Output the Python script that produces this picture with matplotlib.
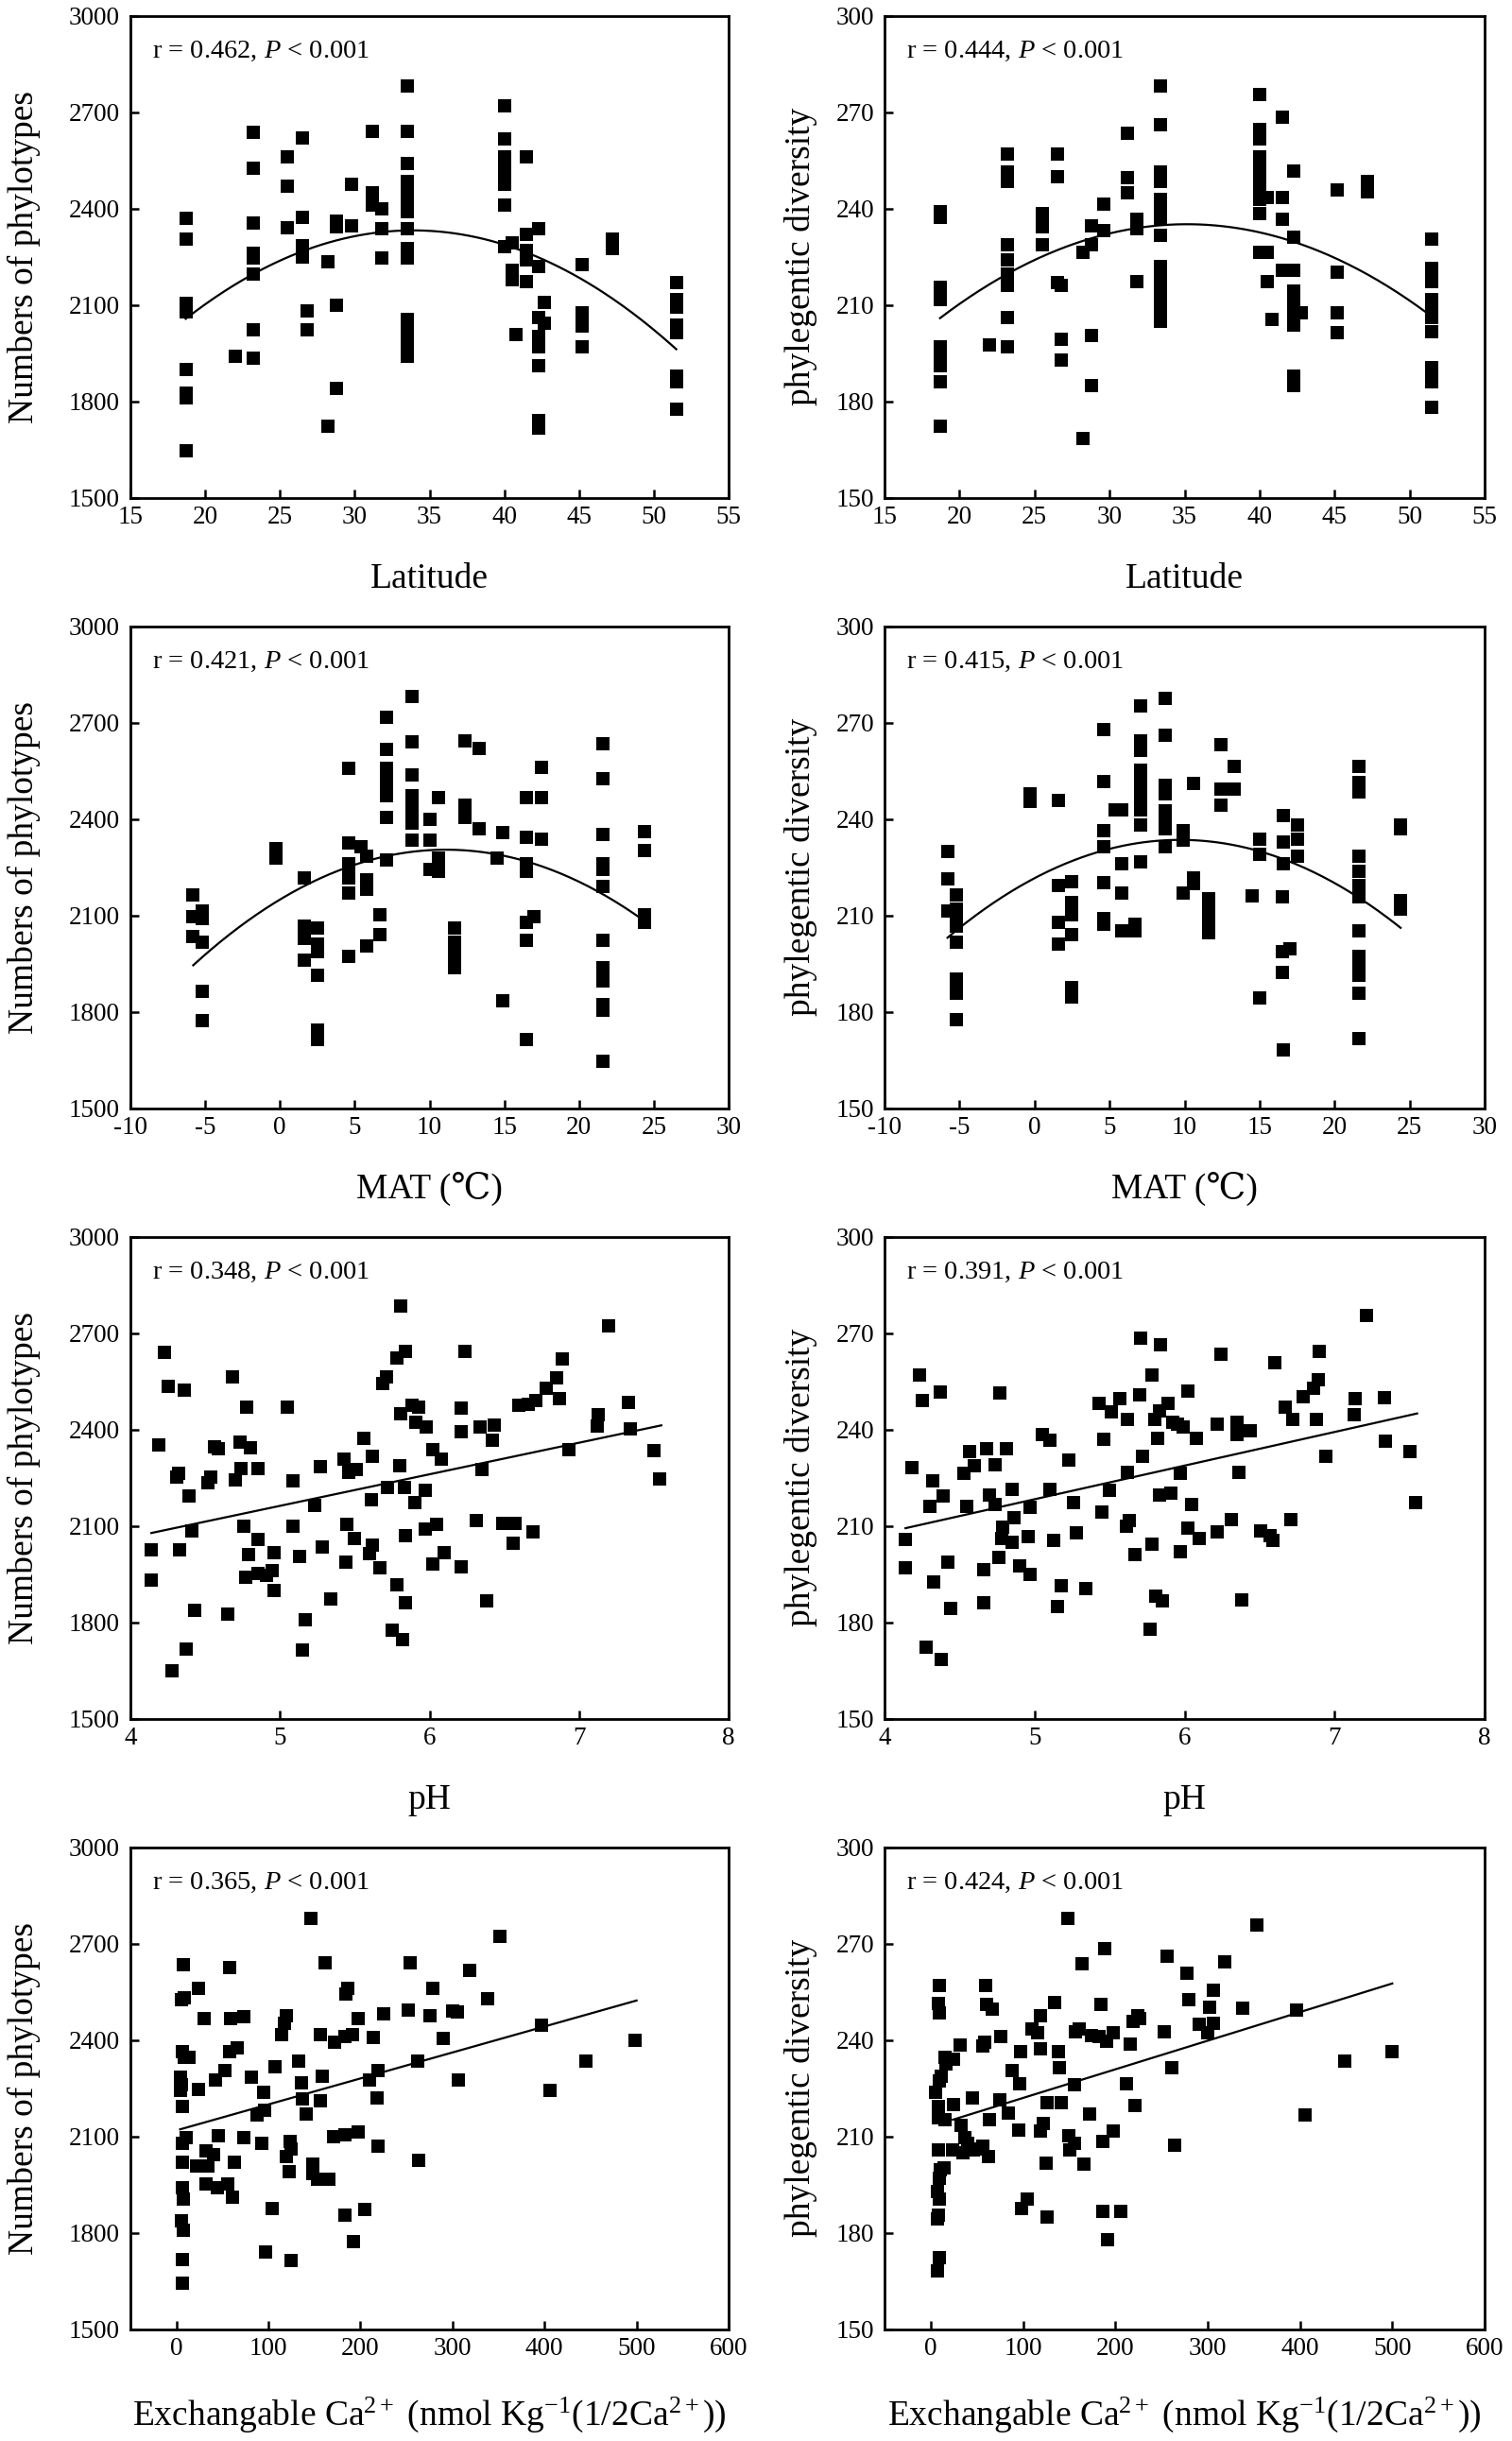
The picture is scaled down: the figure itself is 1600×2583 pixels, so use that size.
import numpy as np
import matplotlib
matplotlib.use('Agg')
import matplotlib.pyplot as plt

plt.rcParams['font.family'] = ['Liberation Serif', 'DejaVu Serif', 'DejaVu Sans']
plt.rcParams['mathtext.fontset'] = 'custom'
plt.rcParams['mathtext.rm'] = 'Liberation Serif'
plt.rcParams['mathtext.it'] = 'Liberation Serif:italic'
plt.rcParams['axes.unicode_minus'] = False

# ---- Latitude vs numbers of phylotypes ----
lat_num_x = [18.7, 18.7, 18.7, 18.7, 18.7, 18.7, 18.7, 18.7,
             22.0,
             23.2, 23.2, 23.2, 23.2, 23.2, 23.2, 23.2, 23.2,
             25.5, 25.5, 25.5,
             26.5, 26.5, 26.5, 26.5, 26.5,
             26.8, 26.8,
             28.2, 28.2,
             28.8, 28.8, 28.8, 28.8,
             29.8, 29.8,
             31.2, 31.2, 31.2,
             31.8, 31.8, 31.8,
             33.5, 33.5, 33.5, 33.5, 33.5, 33.5, 33.5, 33.5, 33.5, 33.5, 33.5, 33.5, 33.5, 33.5, 33.5,
             40.0, 40.0, 40.0, 40.0, 40.0, 40.0, 40.0, 40.0,
             40.5, 40.5, 40.5,
             40.8,
             41.5, 41.5, 41.5, 41.5, 41.5,
             42.3, 42.3, 42.3, 42.3, 42.3, 42.3, 42.3, 42.3,
             42.7, 42.7,
             45.2, 45.2, 45.2, 45.2,
             47.2, 47.2,
             51.5, 51.5, 51.5, 51.5, 51.5, 51.5, 51.5, 51.5]
lat_num_y = [2370, 2305, 2105, 2080, 1900, 1825, 1812, 1645,
             1941,
             2638, 2525, 2355, 2260, 2245, 2197, 2022, 1935,
             2562, 2469, 2340,
             2620, 2373, 2284, 2270, 2248,
             2081, 2022,
             2235, 1722,
             2362, 2342, 2099, 1840,
             2477, 2347,
             2641, 2449, 2410,
             2400, 2336, 2245,
             2781, 2641, 2540, 2483, 2452, 2422, 2391, 2336, 2276, 2245, 2056, 2032, 2002, 1965, 1941,
             2720, 2617, 2562, 2531, 2501, 2477, 2410, 2282,
             2294, 2209, 2178,
             2008,
             2562, 2319, 2270, 2239, 2172,
             2336, 2221, 2062, 2002, 1971, 1910, 1740, 1716,
             2108, 2044,
             2227, 2075, 2035, 1971,
             2306, 2276,
             2170, 2117, 2093, 2038, 2014, 1880, 1862, 1776]
lat_num_fit_x = [18.7, 25, 34, 40, 47, 51.5]
lat_num_fit_y = [2056, 2239, 2333, 2288, 2123, 1965]

# ---- Latitude vs phylogenetic diversity ----
lat_pd_x = [18.7, 18.7, 18.7, 18.7, 18.7, 18.7, 18.7, 18.7, 18.7, 18.7, 18.7,
            22.0,
            23.2, 23.2, 23.2, 23.2, 23.2, 23.2, 23.2, 23.2, 23.2,
            25.5, 25.5, 25.5,
            26.5, 26.5, 26.5,
            26.8, 26.8, 26.8,
            28.2, 28.2,
            28.8, 28.8, 28.8, 28.8,
            29.6, 29.6,
            31.2, 31.2, 31.2,
            31.8, 31.8, 31.8,
            33.4, 33.4, 33.4, 33.4, 33.4, 33.4, 33.4, 33.4, 33.4, 33.4, 33.4, 33.4, 33.4, 33.4, 33.4,
            40.0, 40.0, 40.0, 40.0, 40.0, 40.0, 40.0, 40.0, 40.0, 40.0, 40.0,
            40.5, 40.5, 40.5,
            40.8,
            41.5, 41.5, 41.5, 41.5,
            42.3, 42.3, 42.3, 42.3, 42.3, 42.3, 42.3, 42.3, 42.3, 42.3,
            42.8,
            45.2, 45.2, 45.2, 45.2,
            47.2, 47.2,
            51.5, 51.5, 51.5, 51.5, 51.5, 51.5, 51.5, 51.5, 51.5, 51.5, 51.5]
lat_pd_y = [239.1, 237.3, 215.4, 213.6, 211.7, 197.1, 194.7, 192.2, 191.0, 186.2, 172.4,
            197.7,
            257.0, 251.3, 248.3, 228.8, 223.9, 219.6, 216.0, 206.2, 197.1,
            238.5, 234.2, 228.8,
            257.0, 249.8, 217.0,
            216.0, 199.2, 192.9,
            226.3, 168.3,
            234.5, 228.8, 200.4, 185.0,
            241.3, 233.2,
            263.5, 249.5, 245.0,
            236.7, 233.6, 217.2,
            278.1, 266.2, 251.3, 248.3, 242.8, 239.7, 236.7, 231.8, 222.1, 219.6, 216.0, 212.3, 209.9, 207.5, 205.0,
            275.6, 264.7, 261.6, 256.2, 253.7, 251.3, 248.3, 245.8, 242.8, 238.5, 226.3,
            243.4, 226.3, 217.4,
            205.6,
            268.3, 243.4, 236.7, 220.9,
            251.8, 231.2, 220.9, 214.2, 210.5, 208.1, 205.6, 203.8, 188.0, 185.0,
            207.5,
            245.8, 220.2, 207.5, 201.4,
            248.3, 245.2,
            230.6, 221.5, 217.2, 211.7, 208.7, 206.2, 201.6, 190.4, 187.4, 186.2, 178.2]
lat_pd_fit_x = [18.7, 25, 35, 40, 45, 51.5]
lat_pd_fit_y = [205.6, 224.5, 235.1, 232.4, 224.5, 206.5]

# ---- MAT vs numbers of phylotypes ----
mat_num_x = [-5.8, -5.8, -5.8,
             -5.2, -5.2, -5.2, -5.2, -5.2,
             -0.3, -0.3,
             1.6, 1.6, 1.6, 1.6,
             2.5, 2.5, 2.5, 2.5, 2.5, 2.5,
             4.6, 4.6, 4.6, 4.6, 4.6, 4.6, 4.6,
             5.4,
             5.8, 5.8, 5.8, 5.8,
             6.7, 6.7,
             7.1, 7.1, 7.1, 7.1, 7.1, 7.1, 7.1, 7.1,
             8.8, 8.8, 8.8, 8.8, 8.8, 8.8, 8.8, 8.8, 8.8,
             10.0, 10.0, 10.0,
             10.6, 10.6, 10.6,
             11.7, 11.7, 11.7, 11.7, 11.7,
             12.4, 12.4, 12.4,
             13.3, 13.3,
             14.5,
             14.9, 14.9,
             16.5, 16.5, 16.5, 16.5, 16.5, 16.5, 16.5,
             17.0,
             17.5, 17.5, 17.5,
             21.6, 21.6, 21.6, 21.6, 21.6, 21.6, 21.6, 21.6, 21.6, 21.6, 21.6, 21.6, 21.6,
             24.4, 24.4, 24.4, 24.4]
mat_num_y = [2163, 2096, 2035,
             2114, 2090, 2017, 1865, 1774,
             2309, 2279,
             2218, 2066, 2029, 1962,
             2060, 2011, 1987, 1914, 1743, 1713,
             2558, 2327, 2260, 2236, 2218, 2169, 1974,
             2315,
             2285, 2212, 2181, 2005,
             2102, 2041,
             2717, 2616, 2558, 2528, 2504, 2473, 2406, 2273,
             2781, 2640, 2538, 2473, 2449, 2431, 2406, 2388, 2333,
             2400, 2333, 2242,
             2467, 2279, 2236,
             2060, 2017, 1999, 1962, 1938,
             2644, 2443, 2406,
             2619, 2370,
             2279,
             2358, 1835,
             2467, 2343, 2260, 2236, 2080, 2023, 1715,
             2096,
             2561, 2467, 2336,
             2635, 2526, 2352, 2260, 2242, 2190, 2023, 1938, 1920, 1895, 1822, 1804, 1646,
             2360, 2303, 2102, 2078]
mat_num_fit_x = [-5.8, 0, 5, 11, 15, 20, 24.4]
mat_num_fit_y = [1950, 2139, 2260, 2309, 2285, 2206, 2080]

# ---- MAT vs phylogenetic diversity ----
mat_pd_x = [-5.8, -5.8, -5.8,
            -5.2, -5.2, -5.2, -5.2, -5.2, -5.2, -5.2, -5.2, -5.2,
            -0.3, -0.3,
            1.6, 1.6, 1.6, 1.6,
            2.5, 2.5, 2.5, 2.5, 2.5, 2.5,
            4.6, 4.6, 4.6, 4.6, 4.6, 4.6, 4.6,
            5.4,
            5.8, 5.8, 5.8, 5.8,
            6.7, 6.7,
            7.1, 7.1, 7.1, 7.1, 7.1, 7.1, 7.1, 7.1, 7.1, 7.1,
            8.7, 8.7, 8.7, 8.7, 8.7, 8.7, 8.7, 8.7,
            9.9, 9.9, 9.9,
            10.6, 10.6, 10.6,
            11.6, 11.6, 11.6, 11.6,
            12.4, 12.4, 12.4,
            13.3, 13.3,
            14.5,
            15.0, 15.0, 15.0,
            16.5, 16.5, 16.5,
            16.6, 16.6, 16.6, 16.6,
            17.0,
            17.5, 17.5, 17.5,
            21.6, 21.6, 21.6, 21.6, 21.6, 21.6, 21.6, 21.6, 21.6, 21.6, 21.6, 21.6, 21.6,
            24.4, 24.4, 24.4, 24.4]
mat_pd_y = [230.0, 221.4, 211.4,
            216.3, 212.0, 209.6, 206.6, 201.7, 190.1, 187.7, 185.8, 177.6,
            247.9, 245.5,
            245.7, 219.3, 207.8, 201.1,
            220.6, 213.9, 210.2, 204.1, 187.7, 184.7,
            268.0, 251.8, 236.4, 231.5, 220.2, 209.0, 207.2,
            242.9,
            242.9, 226.0, 216.9, 205.3,
            207.2, 205.3,
            275.3, 264.4, 261.3, 255.2, 252.8, 249.8, 246.7, 242.9, 238.2, 226.7,
            277.7, 266.2, 250.4, 247.9, 242.5, 240.0, 237.0, 231.5,
            236.4, 233.3, 216.9,
            251.0, 221.8, 219.9,
            215.1, 211.4, 207.8, 204.7,
            263.2, 249.4, 244.3,
            256.4, 249.4,
            216.0,
            233.8, 229.1, 184.4,
            215.7, 198.7, 192.2,
            241.0, 233.0, 226.0, 168.2,
            199.5,
            238.2, 233.8, 228.5,
            256.4, 251.5, 248.5, 228.5, 223.6, 219.3, 215.7, 205.3, 197.4, 195.0, 191.3, 185.8, 171.8,
            238.2, 237.0, 214.5, 212.0]
mat_pd_fit_x = [-5.8, 0, 5, 10, 15, 20, 24.4]
mat_pd_fit_y = [203.5, 221.2, 230.3, 233.3, 230.3, 221.2, 205.3]

# ---- pH vs numbers of phylotypes ----
ph_num_x = [4.14, 4.14, 4.19, 4.23, 4.25, 4.28, 4.31, 4.32, 4.33, 4.36,
            4.37, 4.39, 4.41, 4.43, 4.52, 4.54, 4.56, 4.59, 4.65, 4.68,
            4.70, 4.73, 4.74, 4.76, 4.77, 4.78, 4.79, 4.80, 4.85, 4.85,
            4.85, 4.91, 4.95, 4.96, 4.96, 5.05, 5.09, 5.09, 5.13, 5.15,
            5.17, 5.23, 5.27, 5.28, 5.34, 5.43, 5.44, 5.45, 5.46, 5.50,
            5.51, 5.56, 5.60, 5.61, 5.62, 5.62, 5.67, 5.69, 5.71, 5.72,
            5.75, 5.78, 5.78, 5.80, 5.81, 5.81, 5.82, 5.83, 5.84, 5.84,
            5.84, 5.88, 5.90, 5.91, 5.93, 5.97, 5.97, 5.98, 6.02, 6.02,
            6.05, 6.08, 6.10, 6.21, 6.21, 6.21, 6.24, 6.31, 6.34, 6.35,
            6.38, 6.42, 6.43, 6.49, 6.56, 6.57, 6.60, 6.66, 6.69, 6.71,
            6.78, 6.85, 6.87, 6.89, 6.93, 7.12, 7.13, 7.20, 7.33, 7.34,
            7.50, 7.54]
ph_num_y = [2026, 1931, 2352, 2641, 2534, 1648, 2251, 2263, 2026, 2524,
            1718, 2194, 2083, 1837, 2233, 2251, 2345, 2339, 1825, 2563,
            2242, 2361, 2279, 2099, 1941, 2470, 2010, 2342, 2279, 2059,
            1953, 1947, 1961, 2017, 1898, 2470, 2099, 2239, 2005, 1715,
            1808, 2164, 2284, 2034, 1874, 2309, 1988, 2105, 2266, 2062,
            2276, 2373, 2014, 2182, 2318, 2040, 1969, 2543, 2564, 2221,
            1776, 2623, 1916, 2288, 2785, 2450, 1746, 2221, 2643, 2071,
            1862, 2476, 2174, 2422, 2470, 2212, 2090, 2409, 1981, 2336,
            2105, 2309, 2017, 2467, 2394, 1974, 2643, 2117, 2409, 2276,
            1868, 2367, 2415, 2108, 2047, 2108, 2476, 2480, 2081, 2491,
            2528, 2562, 2495, 2619, 2336, 2412, 2446, 2724, 2485, 2403,
            2333, 2245]
ph_num_fit_x = [4.14, 7.55]
ph_num_fit_y = [2078, 2413]

# ---- pH vs phylogenetic diversity ----
ph_pd_x = [4.14, 4.14, 4.18, 4.23, 4.25, 4.28, 4.30, 4.32, 4.33, 4.37,
           4.38, 4.39, 4.42, 4.44, 4.53, 4.55, 4.57, 4.60, 4.66, 4.66,
           4.68, 4.70, 4.74, 4.74, 4.76, 4.77, 4.78, 4.79, 4.81, 4.85,
           4.85, 4.86, 4.90, 4.96, 4.97, 4.97, 5.05, 5.10, 5.10, 5.13,
           5.15, 5.18, 5.23, 5.26, 5.28, 5.34, 5.43, 5.45, 5.46, 5.50,
           5.51, 5.57, 5.61, 5.62, 5.62, 5.63, 5.67, 5.70, 5.71, 5.72,
           5.77, 5.78, 5.78, 5.80, 5.81, 5.82, 5.83, 5.83, 5.84, 5.85,
           5.89, 5.91, 5.92, 5.95, 5.97, 5.97, 5.99, 6.02, 6.02, 6.05,
           6.08, 6.10, 6.22, 6.22, 6.24, 6.31, 6.35, 6.35, 6.36, 6.38,
           6.44, 6.51, 6.57, 6.59, 6.60, 6.67, 6.71, 6.72, 6.79, 6.86,
           6.88, 6.89, 6.90, 6.94, 7.13, 7.14, 7.21, 7.33, 7.34, 7.50,
           7.54]
ph_pd_y = [205.9, 197.1, 228.2, 257.0, 248.9, 172.2, 216.0, 223.9, 192.5, 251.7,
           168.5, 219.3, 198.7, 184.3, 226.3, 216.0, 233.2, 228.8, 186.2, 196.3,
           233.9, 219.6, 229.0, 216.6, 200.2, 251.3, 206.0, 209.5, 233.9, 221.5,
           205.0, 212.7, 197.5, 206.6, 215.7, 195.0, 238.5, 236.7, 221.5, 205.4,
           184.9, 191.4, 230.4, 217.2, 207.8, 190.4, 248.0, 214.2, 236.9, 221.1,
           245.6, 249.5, 209.9, 226.6, 243.1, 211.7, 201.1, 250.7, 268.3, 231.6,
           177.9, 257.0, 204.2, 243.1, 188.2, 237.3, 219.6, 245.8, 266.3, 186.8,
           248.0, 220.2, 242.2, 241.6, 226.3, 202.0, 240.9, 251.9, 209.3, 216.8,
           237.3, 206.2, 208.1, 241.8, 263.5, 212.0, 242.4, 238.5, 226.6, 187.0,
           239.7, 208.4, 207.1, 205.6, 260.7, 247.0, 212.0, 243.0, 250.1, 252.9,
           243.0, 255.6, 264.3, 231.8, 244.6, 249.5, 275.6, 249.8, 236.4, 233.0,
           217.2]
ph_pd_fit_x = [4.14, 7.55]
ph_pd_fit_y = [209.3, 245.0]

# ---- Exchangeable Ca vs numbers of phylotypes ----
ca_num_x = [7, 5, 9, 6, 9, 14, 4, 5, 4, 6,
            6, 11, 6, 6, 7, 5, 7, 6, 6, 24,
            24, 22, 30, 32, 34, 32, 40, 42, 45, 44,
            53, 56, 58, 58, 59, 61, 63, 66, 73, 73,
            81, 88, 93, 95, 96, 97, 104, 107, 114, 117,
            119, 119, 122, 124, 125, 125, 133, 136, 137, 141,
            146, 148, 148, 153, 156, 156, 158, 162, 166, 171,
            172, 183, 183, 183, 184, 186, 191, 192, 197, 197,
            205, 210, 214, 218, 219, 219, 225, 252, 254, 262,
            263, 276, 279, 290, 300, 305, 306, 319, 338, 351,
            397, 406, 445, 498]
ca_num_y = [2634, 2526, 2532, 2363, 2345, 2345, 2284, 2260, 2242, 2194,
            2079, 2097, 2021, 1941, 1904, 1838, 1808, 1717, 1642, 2562,
            2245, 2009, 2468, 2055, 2007, 1953, 2043, 2275, 2103, 1941,
            2306, 1953, 2625, 2365, 2468, 1910, 2019, 2375, 2474, 2097,
            2284, 2167, 2079, 2236, 2182, 1741, 1877, 2317, 2417, 2453,
            2477, 2037, 1989, 2085, 2061, 1715, 2333, 2266, 2216, 2170,
            2779, 2013, 1983, 1967, 2417, 2212, 2287, 2640, 1967, 2100,
            2393, 2411, 1856, 2106, 2544, 2562, 2417, 1772, 2115, 2468,
            1873, 2276, 2409, 2220, 2306, 2071, 2481, 2492, 2640, 2333,
            2027, 2477, 2560, 2405, 2490, 2486, 2275, 2616, 2528, 2722,
            2447, 2242, 2333, 2399]
ca_num_fit_x = [4, 500]
ca_num_fit_y = [2122, 2523]

# ---- Exchangeable Ca vs phylogenetic diversity ----
ca_pd_x = [9, 8, 9, 5, 9, 11, 8, 8, 15, 8,
           10, 14, 7, 9, 9, 8, 7, 9, 7, 15,
           17, 25, 25, 24, 32, 33, 35, 37, 40, 45,
           46, 52, 56, 56, 58, 60, 61, 63, 64, 67,
           75, 76, 84, 88, 95, 96, 97, 98, 105, 110,
           116, 119, 119, 119, 122, 126, 125, 126, 134, 138,
           139, 141, 149, 150, 151, 156, 156, 157, 161, 164,
           166, 172, 174, 182, 184, 186, 186, 188, 191, 192,
           198, 198, 206, 212, 216, 219, 221, 224, 226, 253,
           256, 261, 264, 278, 280, 291, 300, 302, 306, 306,
           319, 338, 353, 396, 406, 448, 500]
ca_pd_y = [257.0, 251.4, 248.4, 223.6, 227.2, 228.7, 219.4, 215.8, 215.2, 205.8,
           199.5, 200.1, 192.8, 197.0, 190.4, 185.6, 184.4, 172.3, 168.1, 234.5,
           232.7, 233.9, 220.0, 205.8, 238.3, 213.4, 204.9, 209.7, 207.9, 222.0,
           205.8, 206.1, 207.0, 238.1, 239.3, 257.0, 251.0, 203.7, 215.2, 249.6,
           221.4, 241.1, 217.3, 230.6, 211.9, 226.3, 236.5, 187.7, 190.4, 243.3,
           242.3, 247.7, 237.3, 211.6, 214.0, 220.6, 201.7, 185.0, 251.7, 236.5,
           231.5, 220.6, 277.9, 210.3, 205.8, 207.9, 226.0, 242.6, 243.3, 263.7,
           201.3, 217.0, 241.5, 241.1, 251.0, 208.3, 186.8, 268.3, 239.7, 178.0,
           211.6, 242.3, 186.8, 226.3, 238.7, 245.9, 219.6, 247.7, 246.8, 242.7,
           266.1, 231.5, 207.3, 260.7, 252.6, 245.0, 242.3, 250.2, 245.3, 255.6,
           264.3, 249.9, 275.9, 249.3, 216.7, 233.3, 236.5]
ca_pd_fit_x = [24, 500]
ca_pd_fit_y = [215.2, 257.6]

r_values = [['0.462', '0.444'], ['0.421', '0.415'], ['0.348', '0.391'], ['0.365', '0.424']]
x_labels = ['Latitude', 'MAT (\u2103)', 'pH',
            'Exchangable Ca$^{2+}$ (nmol Kg$^{-1}$(1/2Ca$^{2+}$))']
y_labels = ['Numbers of phylotypes', 'phylegentic diversity']
x_limits = [(15, 55), (-10, 30), (4, 8), (-50, 600)]
x_ticks = [np.arange(15, 56, 5), np.arange(-10, 31, 5), np.arange(4, 9, 1), np.arange(0, 601, 100)]
y_limits = [(1500, 3000), (150, 300)]
y_ticks = [np.arange(1500, 3001, 300), np.arange(150, 301, 30)]

panels = [
    [(lat_num_x, lat_num_y, lat_num_fit_x, lat_num_fit_y, 2),
     (lat_pd_x, lat_pd_y, lat_pd_fit_x, lat_pd_fit_y, 2)],
    [(mat_num_x, mat_num_y, mat_num_fit_x, mat_num_fit_y, 2),
     (mat_pd_x, mat_pd_y, mat_pd_fit_x, mat_pd_fit_y, 2)],
    [(ph_num_x, ph_num_y, ph_num_fit_x, ph_num_fit_y, 1),
     (ph_pd_x, ph_pd_y, ph_pd_fit_x, ph_pd_fit_y, 1)],
    [(ca_num_x, ca_num_y, ca_num_fit_x, ca_num_fit_y, 1),
     (ca_pd_x, ca_pd_y, ca_pd_fit_x, ca_pd_fit_y, 1)],
]

W, H = 1600, 2583
fig = plt.figure(figsize=(W / 100, H / 100), dpi=100)

col_left = [138, 936]
col_width = [633, 635]
ylab_x = [-0.150, -0.112]

for i in range(4):
    bottom_px = 526.7 + 646 * i
    for j in range(2):
        ax = fig.add_axes([col_left[j] / W, 1 - bottom_px / H, col_width[j] / W, 510 / H])
        x, y, fx, fy, deg = panels[i][j]
        ax.scatter(x, y, s=92, marker='s', color='black', linewidths=0, zorder=3)

        # fitted curve
        coef = np.polyfit(fx, fy, deg)
        xs = np.linspace(min(fx), max(fx), 200)
        ax.plot(xs, np.polyval(coef, xs), color='black', lw=1.6, zorder=2)

        ax.set_xlim(*x_limits[i])
        ax.set_xticks(x_ticks[i])
        ax.set_ylim(*y_limits[j])
        ax.set_yticks(y_ticks[j])
        for sp in ax.spines.values():
            sp.set_linewidth(2.0)
        ax.tick_params(direction='in', length=6.5, width=1.8, labelsize=19.5,
                       top=False, right=False)
        ax.tick_params(axis='x', pad=6)
        ax.tick_params(axis='y', pad=8)

        ax.set_xlabel(x_labels[i], fontsize=27)
        ax.xaxis.label.set_verticalalignment('baseline')
        ax.xaxis.set_label_coords(0.5, -0.198 if i == 3 else -0.186)
        ax.set_ylabel(y_labels[j], fontsize=27)
        ax.yaxis.set_label_coords(ylab_x[j], 0.5)

        ax.text(0.036, 0.927, 'r = ' + r_values[i][j] + ', $P$ < 0.001',
                transform=ax.transAxes, fontsize=20.5, va='center', ha='left')

fig.savefig('out.png', dpi=100)
